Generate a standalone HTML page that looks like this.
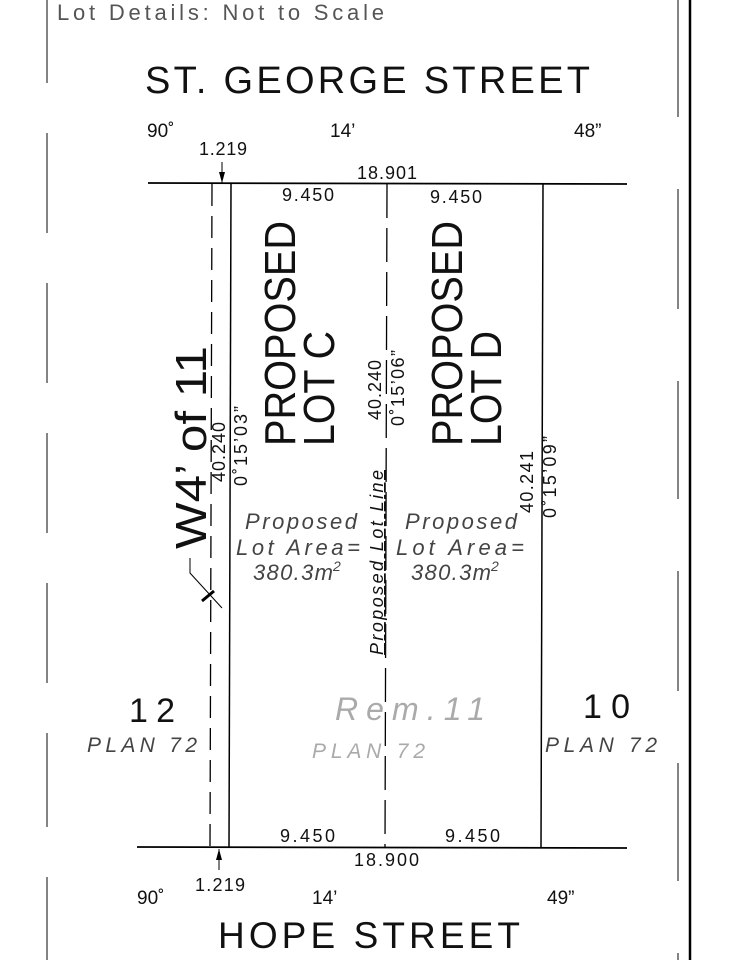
<!DOCTYPE html>
<html><head><meta charset="utf-8"><style>
html,body{margin:0;padding:0;background:#fff}
svg{display:block}
text{font-family:"Liberation Sans",sans-serif;fill:#111}
</style></head><body>
<svg width="735" height="960" viewBox="0 0 735 960" xmlns="http://www.w3.org/2000/svg">
<line x1="47" y1="0" x2="47" y2="960" stroke="#333" stroke-width="1.2" stroke-dasharray="83 50 100 50 100 50 100 50 100 50 94 50 99 51 100"/>
<line x1="678" y1="0" x2="678" y2="960" stroke="#333" stroke-width="1.2" stroke-dasharray="117 72 120 72 118 72 120 72 118 72 120"/>
<line x1="690" y1="0" x2="690" y2="960" stroke="#000" stroke-width="2.5"/>

<text x="57" y="20" font-size="22" style="fill:#555" textLength="327" lengthAdjust="spacing">Lot Details:  Not to Scale</text>
<text x="145" y="93" font-size="38" textLength="445" lengthAdjust="spacing">ST.  GEORGE  STREET</text>

<text x="147" y="137" font-size="19">90˚</text>
<text x="330" y="137" font-size="19">14’</text>
<text x="574" y="137" font-size="19">48”</text>
<text x="199" y="155" font-size="18" textLength="48">1.219</text>
<line x1="222" y1="162" x2="222" y2="183" stroke="#000" stroke-width="1"/>
<polygon points="219,172 225,172 222,183" fill="#000"/>
<text x="357" y="179" font-size="18" textLength="60">18.901</text>
<text x="282" y="201" font-size="18" textLength="52">9.450</text>
<text x="430" y="203" font-size="18" textLength="52">9.450</text>

<line x1="148" y1="183" x2="627" y2="184" stroke="#000" stroke-width="1.8"/>
<line x1="137" y1="847" x2="627" y2="848" stroke="#000" stroke-width="1.8"/>
<line x1="212" y1="184" x2="210" y2="847" stroke="#000" stroke-width="1.3" stroke-dasharray="22 10"/>
<line x1="231" y1="184" x2="229" y2="847" stroke="#000" stroke-width="1.5"/>
<line x1="387" y1="184" x2="385" y2="847" stroke="#000" stroke-width="1.3" stroke-dasharray="34 10"/>
<line x1="543" y1="184" x2="541" y2="847" stroke="#000" stroke-width="1.5"/>

<text transform="translate(295,446) rotate(-90)" font-size="44" textLength="225" lengthAdjust="spacingAndGlyphs">PROPOSED</text>
<text transform="translate(334,446) rotate(-90)" font-size="44" textLength="115" lengthAdjust="spacingAndGlyphs">LOT C</text>
<text transform="translate(462,446) rotate(-90)" font-size="44" textLength="225" lengthAdjust="spacingAndGlyphs">PROPOSED</text>
<text transform="translate(501,446) rotate(-90)" font-size="44" textLength="115" lengthAdjust="spacingAndGlyphs">LOT D</text>

<text transform="translate(206,549) rotate(-90)" font-size="44" textLength="203" lengthAdjust="spacingAndGlyphs">W4’  of  11</text>
<polyline points="190,558 190,573 222,608" fill="none" stroke="#000" stroke-width="1"/>
<line x1="202" y1="601" x2="214" y2="591" stroke="#000" stroke-width="3"/>

<text transform="translate(225,482) rotate(-90)" font-size="18" textLength="60">40.240</text>
<text transform="translate(247,486) rotate(-90)" font-size="18" textLength="80">0˚15’03”</text>
<text transform="translate(381,420) rotate(-90)" font-size="18" textLength="60">40.240</text>
<text transform="translate(404,426) rotate(-90)" font-size="18" textLength="76">0˚15’06”</text>
<text transform="translate(533,513) rotate(-90)" font-size="18" textLength="62">40.241</text>
<text transform="translate(556,518) rotate(-90)" font-size="18" textLength="82">0˚15’09”</text>

<text transform="translate(383,655) rotate(-90)" font-size="18" font-style="italic" text-decoration="underline" textLength="185">Proposed Lot Line</text>

<g font-size="22" font-style="italic">
<text x="245" y="529" style="fill:#444" textLength="112">Proposed</text>
<text x="236" y="555" style="fill:#444" textLength="124">Lot  Area=</text>
<text x="253" y="580" style="fill:#444" textLength="80">380.3m</text><text x="333" y="571" font-size="14" style="fill:#444">2</text>
<text x="405" y="529" style="fill:#444" textLength="112">Proposed</text>
<text x="396" y="555" style="fill:#444" textLength="128">Lot  Area=</text>
<text x="411" y="580" style="fill:#444" textLength="80">380.3m</text><text x="491" y="571" font-size="14" style="fill:#444">2</text>
</g>

<text x="129" y="722" font-size="34" textLength="46">12</text>
<text x="87" y="752" font-size="21" font-style="italic" style="fill:#444" textLength="110">PLAN  72</text>
<text x="583" y="718" font-size="34" textLength="47">10</text>
<text x="545" y="752" font-size="21" font-style="italic" style="fill:#444" textLength="112">PLAN  72</text>
<text x="335" y="720" font-size="32" font-style="italic" style="fill:#aaa" textLength="150">Rem.11</text>
<text x="312" y="758" font-size="21" font-style="italic" style="fill:#aaa" textLength="113">PLAN  72</text>

<text x="280" y="842" font-size="18" textLength="55">9.450</text>
<text x="445" y="842" font-size="18" textLength="55">9.450</text>
<text x="354" y="866" font-size="18" textLength="65">18.900</text>
<line x1="219" y1="849" x2="219" y2="870" stroke="#000" stroke-width="1"/>
<polygon points="216,860 222,860 219,849" fill="#000"/>
<text x="195" y="891" font-size="18" textLength="50">1.219</text>
<text x="137" y="904" font-size="19">90˚</text>
<text x="312" y="904" font-size="19">14’</text>
<text x="547" y="904" font-size="19">49”</text>
<text x="218" y="948" font-size="37" textLength="302" lengthAdjust="spacing">HOPE  STREET</text>
</svg>
</body></html>
